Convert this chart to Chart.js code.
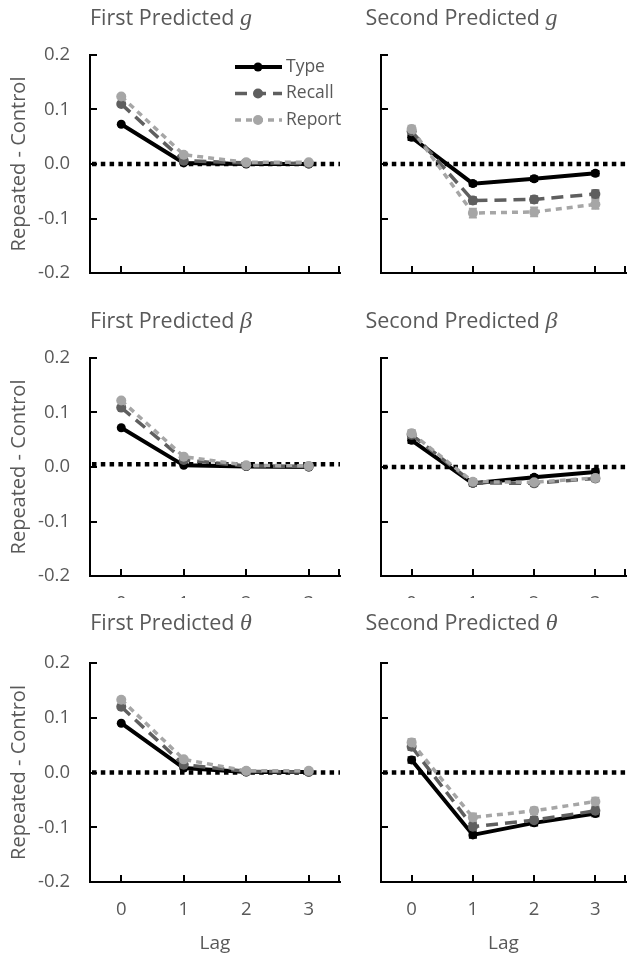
<!DOCTYPE html>
<html>
<head>
<meta charset="utf-8">
<script src="https://cdn.jsdelivr.net/npm/chart.js@4.4.1/dist/chart.umd.min.js"></script>
<style>
    body { margin: 0; background: #fff; }
    #fig { position: relative; width: 631px; height: 955px; overflow: hidden; }
    .cell { position: absolute; }
    .cell canvas { display: block; }
</style>
</head>
<body>
<div id="fig"></div>
<script>
// Данные

const lags = ['0', '1', '2', '3']
const yTicks = ['-0.2', '-0.1', '0.0', '0.1', '0.2']
const seriesNames = ['Type', 'Recall', 'Report']

// First Predicted g
const g1Type = [0.073, 0.002, 0.000, 0.000]
const g1Recall = [0.110, 0.006, 0.002, 0.001]
const g1Report = [0.124, 0.017, 0.003, 0.003]

// Second Predicted g
const g2Type = [0.049, -0.036, -0.027, -0.017]
const g2Recall = [0.060, -0.067, -0.065, -0.055]
const g2Report = [0.064, -0.090, -0.088, -0.074]
const g2TypeErr = [0.005, 0.004, 0.004, 0.004]
const g2RecallErr = [0.006, 0.006, 0.006, 0.007]
const g2ReportErr = [0.006, 0.008, 0.008, 0.008]

// First Predicted β
const b1Type = [0.072, 0.003, 0.001, 0.000]
const b1Recall = [0.109, 0.013, 0.002, 0.001]
const b1Report = [0.122, 0.019, 0.003, 0.002]

// Second Predicted β
const b2Type = [0.049, -0.030, -0.019, -0.009]
const b2Recall = [0.059, -0.029, -0.030, -0.021]
const b2Report = [0.062, -0.027, -0.028, -0.020]
const b2TypeErr = [0.005, 0.004, 0.004, 0.005]
const b2RecallErr = [0.006, 0.005, 0.005, 0.005]
const b2ReportErr = [0.006, 0.005, 0.005, 0.005]

// First Predicted θ
const t1Type = [0.090, 0.008, 0.001, 0.001]
const t1Recall = [0.120, 0.014, 0.002, 0.001]
const t1Report = [0.133, 0.024, 0.003, 0.003]

// Second Predicted θ
const t2Type = [0.023, -0.114, -0.092, -0.075]
const t2Recall = [0.047, -0.099, -0.087, -0.070]
const t2Report = [0.055, -0.082, -0.070, -0.053]
const t2TypeErr = [0.005, 0.005, 0.005, 0.005]
const t2RecallErr = [0.006, 0.007, 0.006, 0.007]
const t2ReportErr = [0.006, 0.007, 0.006, 0.007]

// уровень пунктирной линии "без разницы" на каждой панели
const zeroLevels = [0, 0, 0.005, 0, 0, 0]

const panels = [
    { title: 'First Predicted ', sym: 'g', row: 0, col: 0, series: [g1Type, g1Recall, g1Report], errors: null, legend: true },
    { title: 'Second Predicted ', sym: 'g', row: 0, col: 1, series: [g2Type, g2Recall, g2Report], errors: [g2TypeErr, g2RecallErr, g2ReportErr] },
    { title: 'First Predicted ', sym: 'β', row: 1, col: 0, series: [b1Type, b1Recall, b1Report], errors: null },
    { title: 'Second Predicted ', sym: 'β', row: 1, col: 1, series: [b2Type, b2Recall, b2Report], errors: [b2TypeErr, b2RecallErr, b2ReportErr] },
    { title: 'First Predicted ', sym: 'θ', row: 2, col: 0, series: [t1Type, t1Recall, t1Report], errors: null },
    { title: 'Second Predicted ', sym: 'θ', row: 2, col: 1, series: [t2Type, t2Recall, t2Report], errors: [t2TypeErr, t2RecallErr, t2ReportErr] },
]

// Стили серий
const styles = [
    { color: '#000000', width: 4, dash: [], radius: 4.5, order: 3 },
    { color: '#5f5f5f', width: 3.5, dash: [12, 7], radius: 5, order: 2 },
    { color: '#a6a6a6', width: 3.5, dash: [6, 5], radius: 5, order: 1 },
]

// Геометрия панелей (канвас обрезает подписи оси X у верхних рядов)
const rowTop = [0, 300, 600]
const canvasH = [289, 298, 355]
const padTop = [55, 58, 63]
const xHeight = [16, 22, 73]
const titleBase = [25, 28, 30]
const colLeft = [0, 345]
const colW = [345, 286]
const yWidth = [90, 36]
const padRight = [3, 0]
const titleCenter = [171, 116.5]

Chart.defaults.font.family = "'Open Sans', sans-serif"
Chart.defaults.color = '#595959'

// Заголовок панели: обычный текст + курсивный символ
const panelTitle = {
    id: 'panelTitle',
    afterDraw(chart, args, opts) {
        const ctx = chart.ctx
        ctx.save()
        ctx.fillStyle = '#595959'
        ctx.textBaseline = 'alphabetic'
        const f1 = "21.5px 'Open Sans'"
        const f2 = "italic 24px 'Liberation Serif'"
        ctx.font = f1
        const w1 = ctx.measureText(opts.text).width
        ctx.font = f2
        const w2 = ctx.measureText(opts.sym).width
        const x0 = opts.cx - (w1 + w2) / 2
        ctx.font = f1
        ctx.fillText(opts.text, x0, opts.baseline)
        ctx.font = f2
        ctx.fillText(opts.sym, x0 + w1, opts.baseline)
        ctx.restore()
    }
}

// Пунктирная линия нуля
const zeroLine = {
    id: 'zeroLine',
    beforeDatasetsDraw(chart, args, opts) {
        const { ctx, chartArea: a, scales: { y } } = chart
        const py = y.getPixelForValue(opts.level)
        ctx.save()
        ctx.strokeStyle = '#000'
        ctx.lineWidth = 4.5
        ctx.setLineDash([4.5, 4.3])
        ctx.beginPath()
        ctx.moveTo(a.left + 2, py)
        ctx.lineTo(a.right, py)
        ctx.stroke()
        ctx.restore()
    }
}

// Планки погрешностей
const errorBars = {
    id: 'errorBars',
    beforeDatasetsDraw(chart) {
        const { ctx, scales: { y } } = chart
        ctx.save()
        chart.data.datasets.forEach((ds, di) => {
            if (!ds.errors) return
            const meta = chart.getDatasetMeta(di)
            ctx.strokeStyle = ds.borderColor
            ctx.lineWidth = 2
            ds.data.forEach((v, i) => {
                const px = meta.data[i].x
                const top = y.getPixelForValue(v + ds.errors[i])
                const bot = y.getPixelForValue(v - ds.errors[i])
                ctx.beginPath()
                ctx.moveTo(px, top); ctx.lineTo(px, bot)
                ctx.moveTo(px - 4, top); ctx.lineTo(px + 4, top)
                ctx.moveTo(px - 4, bot); ctx.lineTo(px + 4, bot)
                ctx.stroke()
            })
        })
        ctx.restore()
    }
}

// Засечки внутрь области графика
const insideTicks = {
    id: 'insideTicks',
    afterDraw(chart) {
        const { ctx, chartArea: a, scales: { x, y } } = chart
        ctx.save()
        ctx.strokeStyle = '#000'
        ctx.lineWidth = 2
        ctx.beginPath()
        y.ticks.forEach(t => {
            const py = Math.round(y.getPixelForValue(t.value))
            ctx.moveTo(a.left, py)
            ctx.lineTo(a.left + 7, py)
        })
        x.ticks.forEach((t, i) => {
            const px = Math.round(x.getPixelForTick(i))
            ctx.moveTo(px, a.bottom)
            ctx.lineTo(px, a.bottom - 7)
        })
        ctx.moveTo(a.right - 1, a.bottom)
        ctx.lineTo(a.right - 1, a.bottom - 7)
        ctx.stroke()
        ctx.restore()
    }
}

// Легенда (только на первой панели)
const seriesKey = {
    id: 'seriesKey',
    afterDraw(chart, args, opts) {
        if (!opts.show) return
        const ctx = chart.ctx
        const rows = [67, 93.5, 120]
        ctx.save()
        chart.data.datasets.forEach((ds, i) => {
            const yy = rows[i]
            ctx.strokeStyle = ds.borderColor
            ctx.lineWidth = ds.borderWidth
            ctx.setLineDash(ds.borderDash)
            ctx.beginPath()
            ctx.moveTo(235, yy)
            ctx.lineTo(282, yy)
            ctx.stroke()
            ctx.setLineDash([])
            ctx.fillStyle = ds.pointBackgroundColor
            ctx.beginPath()
            ctx.arc(258, yy, ds.pointRadius, 0, Math.PI * 2)
            ctx.fill()
            ctx.fillStyle = '#595959'
            ctx.font = "17.5px 'Open Sans'"
            ctx.textBaseline = 'middle'
            ctx.fillText(ds.label, 286, yy)
        })
        ctx.restore()
    }
}

const fig = document.getElementById('fig')

panels.forEach((p, n) => {
    const r = p.row, c = p.col
    const cell = document.createElement('div')
    cell.className = 'cell'
    cell.style.left = colLeft[c] + 'px'
    cell.style.top = rowTop[r] + 'px'
    // легенда первой панели заходит на соседнюю
    if (p.legend) cell.style.zIndex = 2
    const canvas = document.createElement('canvas')
    canvas.width = colW[c]
    canvas.height = canvasH[r]
    cell.appendChild(canvas)
    fig.appendChild(cell)

    new Chart(canvas.getContext('2d'), {
        type: 'line',
        data: {
            labels: lags,
            datasets: p.series.map((vals, i) => ({
                label: seriesNames[i],
                data: vals,
                errors: p.errors ? p.errors[i] : null,
                borderColor: styles[i].color,
                backgroundColor: styles[i].color,
                pointBackgroundColor: styles[i].color,
                pointBorderColor: styles[i].color,
                pointBorderWidth: 0,
                pointRadius: styles[i].radius,
                borderWidth: styles[i].width,
                borderDash: styles[i].dash,
                order: styles[i].order,
                tension: 0,
                fill: false
            }))
        },
        options: {
            responsive: false,
            animation: false,
            devicePixelRatio: 1,
            layout: { padding: { top: padTop[r], right: padRight[c], bottom: 0, left: 0 } },
            plugins: {
                legend: { display: false },
                tooltip: { enabled: false },
                zeroLine: { level: zeroLevels[n] },
                panelTitle: { text: p.title, sym: p.sym, cx: titleCenter[c], baseline: titleBase[r] },
                seriesKey: { show: !!p.legend }
            },
            scales: {
                x: {
                    offset: true,
                    grid: { display: true, drawOnChartArea: false, drawTicks: false },
                    border: { display: true, color: '#000', width: 2 },
                    ticks: { font: { size: 18.5 }, padding: 17 },
                    title: { display: r === 2, text: 'Lag', font: { size: 19 }, padding: 0 },
                    afterFit: s => { s.height = xHeight[r]; s.paddingLeft = 0; s.paddingRight = 0 }
                },
                y: {
                    min: -0.2,
                    max: 0.2,
                    grid: { display: true, drawOnChartArea: false, drawTicks: false },
                    border: { display: true, color: '#000', width: 2 },
                    ticks: {
                        display: c === 0,
                        stepSize: 0.1,
                        padding: 20,
                        font: { size: 18.5 },
                        callback: (v, i) => yTicks[i]
                    },
                    title: { display: c === 0, text: 'Repeated - Control', font: { size: 20 }, padding: { top: 7, bottom: 0 } },
                    afterFit: s => { s.width = yWidth[c]; s.paddingTop = 0; s.paddingBottom = 0 }
                }
            }
        },
        plugins: [zeroLine, errorBars, insideTicks, panelTitle, seriesKey]
    })
})
</script>
</body>
</html>
